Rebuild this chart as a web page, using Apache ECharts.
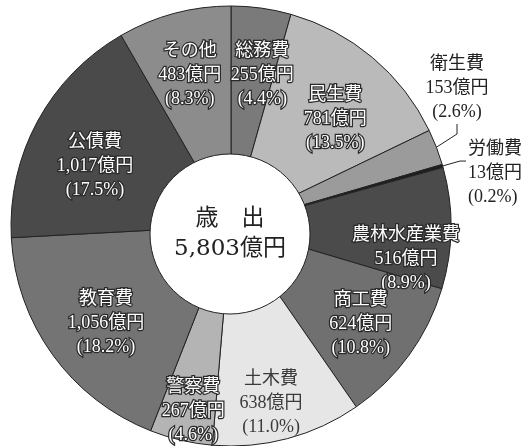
<!DOCTYPE html>
<html><head><meta charset="utf-8">
<script src="https://cdn.jsdelivr.net/npm/echarts@6/dist/echarts.min.js"></script>
<style>html,body{margin:0;padding:0;background:#fff}#c{width:525px;height:446px}</style>
</head><body><div id="c"></div>
<script>
// ---- data ----
const categories = ['総務費','民生費','衛生費','労働費','農林水産業費','商工費','土木費','警察費','教育費','公債費','その他'];
const values = [255,781,153,13,516,624,638,267,1056,1017,483];
const percents = ['4.4','13.5','2.6','0.2','8.9','10.8','11.0','4.6','18.2','17.5','8.3'];
const totalLabel = ['歳　出','5,803億円'];

// ---- styling ----
const colors = ['#7a7a7a','#bababa','#9b9b9b','#1e1e1e','#4b4b4b','#707070','#e6e6e6','#b4b4b4','#747474','#4a4a4a','#8c8c8c'];
const outsideNames = ['衛生費','労働費'];
const plainNames = ['土木費'];
const insideShift = [[11,-4],[9,7],null,null,[27,32],[10,11],[2,34],[-4,41],[-5,11],[-6,11],[-3,-8]];
const serif = "'Liberation Serif','Noto Sans CJK JP',serif";

function fmt(n){ return String(n).replace(/\B(?=(\d{3})+(?!\d))/g, ','); }
function labelText(p){
  const t = p.name + '\n' + fmt(p.value) + '億円\n(' + percents[p.dataIndex] + '%)';
  return p.name === '労働費' ? '\n' + t : t;
}

const data = categories.map((name, i) => {
  const item = { name: name, value: values[i], itemStyle: { color: colors[i] } };
  if (outsideNames.indexOf(name) >= 0) {
    item.label = { position: 'outside', color: '#222', textBorderWidth: 0, distanceToLabelLine: 2 };
    item.labelLine = { show: true, length: 18, length2: name === '衛生費' ? 10 : 6, smooth: false,
      lineStyle: { color: '#222', width: 1 } };
  } else if (plainNames.indexOf(name) >= 0) {
    item.label = { color: '#3a3a3a', textBorderWidth: 0 };
  }
  return item;
});

const chart = echarts.init(document.getElementById('c'), null, { renderer: 'canvas' });
chart.setOption({
  animation: false,
  series: [
    {
      type: 'pie',
      center: [231, 226],
      radius: [70, 220],
      startAngle: 90,
      clockwise: true,
      avoidLabelOverlap: false,
      silent: true,
      itemStyle: { borderColor: '#222', borderWidth: 1 },
      label: {
        show: true, position: 'inside', color: '#fff', textBorderColor: '#2a2a2a', textBorderWidth: 2.5,
        fontFamily: serif, fontSize: 18, lineHeight: 24, align: 'center',
        formatter: labelText
      },
      labelLine: { show: false },
      labelLayout: function (p) {
        const i = p.dataIndex;
        if (categories[i] === '衛生費') return { x: 457, y: 88, align: 'center', verticalAlign: 'middle' };
        const s = insideShift[i];
        return s ? { dx: s[0], dy: s[1] } : {};
      },
      data: data
    },
    {
      type: 'pie',
      z: 3,
      silent: true,
      center: [230, 234],
      radius: [0, 80],
      startAngle: 90,
      itemStyle: { color: '#fff', borderColor: '#222', borderWidth: 1 },
      label: {
        show: true, position: 'center', formatter: totalLabel.join('\n'),
        color: '#222', fontFamily: "'DejaVu Serif','Noto Sans CJK JP',serif", fontSize: 23, lineHeight: 30,
        padding: [0, 0, 8, 0]
      },
      labelLine: { show: false },
      data: [{ value: 1, name: 'total' }]
    }
  ]
});
</script>
</body></html>
